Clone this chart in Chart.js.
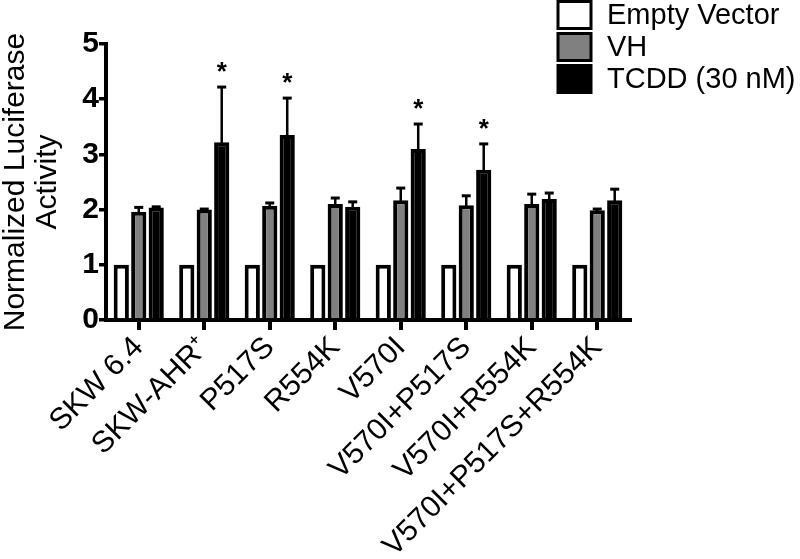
<!DOCTYPE html>
<html>
<head>
<meta charset="utf-8">
<script src="https://cdn.jsdelivr.net/npm/chart.js@4/dist/chart.umd.min.js"></script>
<style>
  html, body { margin: 0; padding: 0; background: #fff; }
  #wrap { width: 800px; height: 559px; position: relative; }
</style>
</head>
<body>
<div id="wrap"><canvas id="c"></canvas></div>
<script>
// ---- Data ----
const categories = ['SKW 6.4', 'SKW-AHR\u207A', 'P517S', 'R554K', 'V570I', 'V570I+P517S', 'V570I+R554K', 'V570I+P517S+R554K'];
const seriesLabels = ['Empty Vector', 'VH', 'TCDD (30 nM)'];
const emptyVector = [1, 1, 1, 1, 1, 1, 1, 1];
const vh      = [1.96, 2.00, 2.07, 2.10, 2.17, 2.08, 2.10, 1.99];
const vhErr   = [0.08, 0.01, 0.05, 0.11, 0.22, 0.17, 0.18, 0.02];
const tcdd    = [2.04, 3.22, 3.35, 2.05, 3.10, 2.72, 2.19, 2.17];
const tcddErr = [0.01, 1.00, 0.67, 0.09, 0.45, 0.47, 0.11, 0.20];
const tcddStars = ['', '*', '*', '', '*', '*', '', ''];
const yTickValues = [0, 1, 2, 3, 4, 5];

const FONT = "'Liberation Sans', Arial, Helvetica, sans-serif";

const errorBarsPlugin = {
  id: 'errorBars',
  afterDatasetsDraw(chart) {
    const ctx = chart.ctx;
    const ys = chart.scales.y;
    chart.data.datasets.forEach((ds, di) => {
      if (!ds.errors) return;
      const meta = chart.getDatasetMeta(di);
      meta.data.forEach((bar, i) => {
        const e = ds.errors[i];
        const v = ds.data[i];
        const yTop = ys.getPixelForValue(v + (e || 0));
        ctx.save();
        ctx.strokeStyle = '#000';
        ctx.fillStyle = '#000';
        if (e) {
          ctx.lineWidth = 2.5;
          ctx.beginPath();
          ctx.moveTo(bar.x, bar.y + 2);
          ctx.lineTo(bar.x, yTop);
          ctx.stroke();
          ctx.lineWidth = 3;
          ctx.beginPath();
          ctx.moveTo(bar.x - 4.5, yTop);
          ctx.lineTo(bar.x + 4.5, yTop);
          ctx.stroke();
        }
        if (ds.stars && ds.stars[i]) {
          ctx.font = 'bold 26px ' + FONT;
          ctx.textAlign = 'center';
          ctx.textBaseline = 'alphabetic';
          ctx.fillText(ds.stars[i], bar.x, yTop - 7);
        }
        ctx.restore();
      });
    });
  }
};

const legendPlugin = {
  id: 'customLegend',
  afterDraw(chart) {
    const ctx = chart.ctx;
    const x0 = 558, w = 33, h = 27, step = 32, y0 = 1.5;
    chart.data.datasets.forEach((ds, i) => {
      const y = y0 + i * step;
      ctx.save();
      ctx.fillStyle = ds.backgroundColor;
      ctx.fillRect(x0, y, w, h);
      ctx.lineWidth = 3;
      ctx.strokeStyle = '#000';
      ctx.strokeRect(x0, y, w, h);
      ctx.fillStyle = '#000';
      ctx.font = '29px ' + FONT;
      ctx.textAlign = 'left';
      ctx.textBaseline = 'middle';
      ctx.fillText(ds.label, 607, y + h / 2 + 1);
      ctx.restore();
    });
  }
};

new Chart(document.getElementById('c'), {
  type: 'bar',
  data: {
    labels: categories,
    datasets: [
      { label: seriesLabels[0], data: emptyVector, backgroundColor: '#ffffff', borderColor: '#000', borderWidth: 4 },
      { label: seriesLabels[1], data: vh, errors: vhErr, backgroundColor: '#808080', borderColor: '#000', borderWidth: 4 },
      { label: seriesLabels[2], data: tcdd, errors: tcddErr, stars: tcddStars, backgroundColor: '#000000', borderColor: '#000', borderWidth: 4 }
    ]
  },
  options: {
    responsive: true,
    maintainAspectRatio: false,
    animation: false,
    devicePixelRatio: 1,
    categoryPercentage: 0.80,
    barPercentage: 0.87,
    layout: { padding: { top: 44, right: 170, left: 0, bottom: 0 } },
    plugins: {
      legend: { display: false },
      tooltip: { enabled: false },
      title: { display: false }
    },
    scales: {
      x: {
        afterFit: (s) => { s.height = 239; },
        grid: { display: true, drawOnChartArea: false, offset: false, color: '#000', lineWidth: 4, tickLength: 10 },
        border: { display: true, color: '#000', width: 4 },
        ticks: { color: '#000', font: { family: FONT, size: 30 }, maxRotation: 45, minRotation: 45, padding: 0, autoSkip: false }
      },
      y: {
        min: 0, max: 5,
        afterFit: (s) => { s.width = 106; },
        afterBuildTicks: (s) => { s.ticks = yTickValues.map(v => ({ value: v })); },
        grid: { display: true, drawOnChartArea: false, color: '#000', lineWidth: 3.5, tickLength: 7 },
        border: { display: true, color: '#000', width: 4 },
        ticks: { color: '#000', font: { family: FONT, size: 30, weight: 'bold' }, padding: 0 },
        title: {
          display: true,
          text: ['Normalized Luciferase', 'Activity'],
          color: '#000',
          font: { family: FONT, size: 30, lineHeight: 1.07 },
          padding: { top: 0, bottom: 0 }
        }
      }
    }
  },
  plugins: [errorBarsPlugin, legendPlugin]
});
</script>
</body>
</html>
